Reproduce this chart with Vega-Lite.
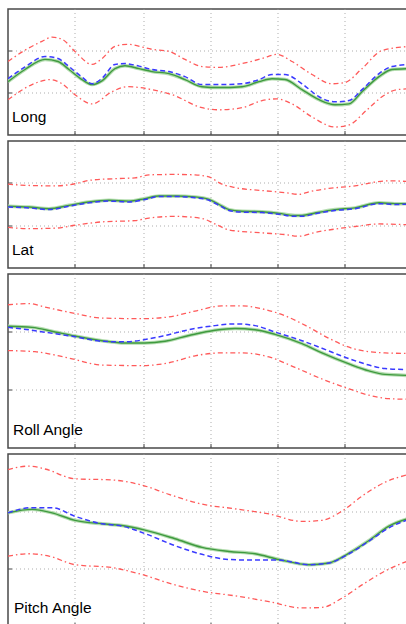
{
"$schema":"https://vega.github.io/schema/vega-lite/v6.json",
"padding":{"left":6,"top":8,"right":0,"bottom":0},
"autosize":{"type":"pad"},
"bounds":"flush",
"spacing":6,
"background":"white",
"config":{"view":{"stroke":"#4a4a4a","strokeWidth":1.5},
"axis":{"labels":false,"title":null,"domain":false,"grid":true,"gridDash":[1,3],"gridColor":"#999","gridOpacity":0.8,"ticks":true,"tickSize":-4,"tickColor":"#444","labelPadding":0,"minExtent":0,"maxExtent":0,"offset":0,"translate":0}},
"datasets":{
"lines":[
{"p":"Long","s":"est","t":0,"v":1.27},{"p":"Long","s":"est","t":17,"v":1.56},{"p":"Long","s":"est","t":37,"v":1.8},{"p":"Long","s":"est","t":50,"v":1.75},{"p":"Long","s":"est","t":61,"v":1.56},{"p":"Long","s":"est","t":74,"v":1.32},{"p":"Long","s":"est","t":84,"v":1.2},{"p":"Long","s":"est","t":94,"v":1.29},{"p":"Long","s":"est","t":107,"v":1.58},{"p":"Long","s":"est","t":117,"v":1.65},{"p":"Long","s":"est","t":131,"v":1.58},{"p":"Long","s":"est","t":144,"v":1.51},{"p":"Long","s":"est","t":161,"v":1.46},{"p":"Long","s":"est","t":177,"v":1.32},{"p":"Long","s":"est","t":194,"v":1.15},{"p":"Long","s":"est","t":211,"v":1.13},{"p":"Long","s":"est","t":234,"v":1.15},{"p":"Long","s":"est","t":251,"v":1.27},{"p":"Long","s":"est","t":264,"v":1.34},{"p":"Long","s":"est","t":277,"v":1.32},{"p":"Long","s":"est","t":294,"v":1.08},{"p":"Long","s":"est","t":311,"v":0.84},{"p":"Long","s":"est","t":327,"v":0.72},{"p":"Long","s":"est","t":341,"v":0.74},{"p":"Long","s":"est","t":354,"v":1.03},{"p":"Long","s":"est","t":371,"v":1.39},{"p":"Long","s":"est","t":384,"v":1.56},{"p":"Long","s":"est","t":402,"v":1.58},
{"p":"Long","s":"ref","t":0,"v":1.34},{"p":"Long","s":"ref","t":17,"v":1.62},{"p":"Long","s":"ref","t":37,"v":1.87},{"p":"Long","s":"ref","t":50,"v":1.82},{"p":"Long","s":"ref","t":61,"v":1.63},{"p":"Long","s":"ref","t":74,"v":1.38},{"p":"Long","s":"ref","t":84,"v":1.22},{"p":"Long","s":"ref","t":94,"v":1.35},{"p":"Long","s":"ref","t":107,"v":1.68},{"p":"Long","s":"ref","t":117,"v":1.7},{"p":"Long","s":"ref","t":131,"v":1.64},{"p":"Long","s":"ref","t":144,"v":1.56},{"p":"Long","s":"ref","t":161,"v":1.51},{"p":"Long","s":"ref","t":177,"v":1.39},{"p":"Long","s":"ref","t":194,"v":1.2},{"p":"Long","s":"ref","t":211,"v":1.2},{"p":"Long","s":"ref","t":234,"v":1.22},{"p":"Long","s":"ref","t":251,"v":1.32},{"p":"Long","s":"ref","t":264,"v":1.44},{"p":"Long","s":"ref","t":277,"v":1.44},{"p":"Long","s":"ref","t":294,"v":1.22},{"p":"Long","s":"ref","t":311,"v":0.91},{"p":"Long","s":"ref","t":327,"v":0.79},{"p":"Long","s":"ref","t":341,"v":0.82},{"p":"Long","s":"ref","t":354,"v":1.08},{"p":"Long","s":"ref","t":371,"v":1.46},{"p":"Long","s":"ref","t":384,"v":1.63},{"p":"Long","s":"ref","t":402,"v":1.68},
{"p":"Long","s":"upper","t":0,"v":1.75},{"p":"Long","s":"upper","t":17,"v":2.02},{"p":"Long","s":"upper","t":34,"v":2.23},{"p":"Long","s":"upper","t":44,"v":2.33},{"p":"Long","s":"upper","t":54,"v":2.28},{"p":"Long","s":"upper","t":67,"v":1.99},{"p":"Long","s":"upper","t":84,"v":1.68},{"p":"Long","s":"upper","t":94,"v":1.82},{"p":"Long","s":"upper","t":107,"v":2.11},{"p":"Long","s":"upper","t":119,"v":2.16},{"p":"Long","s":"upper","t":144,"v":2.04},{"p":"Long","s":"upper","t":161,"v":1.99},{"p":"Long","s":"upper","t":177,"v":1.8},{"p":"Long","s":"upper","t":194,"v":1.63},{"p":"Long","s":"upper","t":211,"v":1.61},{"p":"Long","s":"upper","t":234,"v":1.7},{"p":"Long","s":"upper","t":254,"v":1.82},{"p":"Long","s":"upper","t":269,"v":1.92},{"p":"Long","s":"upper","t":284,"v":1.75},{"p":"Long","s":"upper","t":304,"v":1.44},{"p":"Long","s":"upper","t":324,"v":1.22},{"p":"Long","s":"upper","t":337,"v":1.25},{"p":"Long","s":"upper","t":354,"v":1.58},{"p":"Long","s":"upper","t":374,"v":2.01},{"p":"Long","s":"upper","t":402,"v":2.11},
{"p":"Long","s":"lower","t":0,"v":0.84},{"p":"Long","s":"lower","t":24,"v":1.2},{"p":"Long","s":"lower","t":42,"v":1.32},{"p":"Long","s":"lower","t":54,"v":1.22},{"p":"Long","s":"lower","t":67,"v":0.96},{"p":"Long","s":"lower","t":84,"v":0.74},{"p":"Long","s":"lower","t":104,"v":1.03},{"p":"Long","s":"lower","t":119,"v":1.15},{"p":"Long","s":"lower","t":144,"v":1.08},{"p":"Long","s":"lower","t":164,"v":0.96},{"p":"Long","s":"lower","t":194,"v":0.65},{"p":"Long","s":"lower","t":211,"v":0.6},{"p":"Long","s":"lower","t":234,"v":0.65},{"p":"Long","s":"lower","t":254,"v":0.82},{"p":"Long","s":"lower","t":269,"v":0.86},{"p":"Long","s":"lower","t":284,"v":0.74},{"p":"Long","s":"lower","t":304,"v":0.43},{"p":"Long","s":"lower","t":327,"v":0.19},{"p":"Long","s":"lower","t":341,"v":0.24},{"p":"Long","s":"lower","t":359,"v":0.6},{"p":"Long","s":"lower","t":374,"v":0.91},{"p":"Long","s":"lower","t":389,"v":1.08},{"p":"Long","s":"lower","t":402,"v":1.1},
{"p":"Lat","s":"est","t":0,"v":1.46},{"p":"Lat","s":"est","t":21,"v":1.44},{"p":"Lat","s":"est","t":41,"v":1.4},{"p":"Lat","s":"est","t":61,"v":1.48},{"p":"Lat","s":"est","t":81,"v":1.56},{"p":"Lat","s":"est","t":101,"v":1.6},{"p":"Lat","s":"est","t":121,"v":1.58},{"p":"Lat","s":"est","t":137,"v":1.64},{"p":"Lat","s":"est","t":151,"v":1.7},{"p":"Lat","s":"est","t":167,"v":1.7},{"p":"Lat","s":"est","t":187,"v":1.68},{"p":"Lat","s":"est","t":201,"v":1.62},{"p":"Lat","s":"est","t":211,"v":1.5},{"p":"Lat","s":"est","t":221,"v":1.38},{"p":"Lat","s":"est","t":234,"v":1.34},{"p":"Lat","s":"est","t":254,"v":1.33},{"p":"Lat","s":"est","t":271,"v":1.29},{"p":"Lat","s":"est","t":287,"v":1.24},{"p":"Lat","s":"est","t":294,"v":1.24},{"p":"Lat","s":"est","t":307,"v":1.3},{"p":"Lat","s":"est","t":327,"v":1.38},{"p":"Lat","s":"est","t":347,"v":1.42},{"p":"Lat","s":"est","t":371,"v":1.54},{"p":"Lat","s":"est","t":387,"v":1.52},{"p":"Lat","s":"est","t":402,"v":1.52},
{"p":"Lat","s":"ref","t":0,"v":1.44},{"p":"Lat","s":"ref","t":21,"v":1.42},{"p":"Lat","s":"ref","t":41,"v":1.38},{"p":"Lat","s":"ref","t":61,"v":1.46},{"p":"Lat","s":"ref","t":81,"v":1.54},{"p":"Lat","s":"ref","t":101,"v":1.58},{"p":"Lat","s":"ref","t":121,"v":1.56},{"p":"Lat","s":"ref","t":137,"v":1.62},{"p":"Lat","s":"ref","t":151,"v":1.69},{"p":"Lat","s":"ref","t":167,"v":1.69},{"p":"Lat","s":"ref","t":187,"v":1.66},{"p":"Lat","s":"ref","t":201,"v":1.6},{"p":"Lat","s":"ref","t":211,"v":1.48},{"p":"Lat","s":"ref","t":221,"v":1.36},{"p":"Lat","s":"ref","t":234,"v":1.32},{"p":"Lat","s":"ref","t":254,"v":1.31},{"p":"Lat","s":"ref","t":271,"v":1.27},{"p":"Lat","s":"ref","t":287,"v":1.22},{"p":"Lat","s":"ref","t":294,"v":1.22},{"p":"Lat","s":"ref","t":307,"v":1.28},{"p":"Lat","s":"ref","t":327,"v":1.36},{"p":"Lat","s":"ref","t":347,"v":1.4},{"p":"Lat","s":"ref","t":371,"v":1.52},{"p":"Lat","s":"ref","t":387,"v":1.5},{"p":"Lat","s":"ref","t":402,"v":1.51},
{"p":"Lat","s":"upper","t":0,"v":1.98},{"p":"Lat","s":"upper","t":21,"v":1.95},{"p":"Lat","s":"upper","t":47,"v":1.94},{"p":"Lat","s":"upper","t":67,"v":1.99},{"p":"Lat","s":"upper","t":81,"v":2.07},{"p":"Lat","s":"upper","t":107,"v":2.11},{"p":"Lat","s":"upper","t":127,"v":2.13},{"p":"Lat","s":"upper","t":141,"v":2.2},{"p":"Lat","s":"upper","t":167,"v":2.21},{"p":"Lat","s":"upper","t":187,"v":2.2},{"p":"Lat","s":"upper","t":201,"v":2.15},{"p":"Lat","s":"upper","t":214,"v":1.98},{"p":"Lat","s":"upper","t":227,"v":1.9},{"p":"Lat","s":"upper","t":254,"v":1.83},{"p":"Lat","s":"upper","t":277,"v":1.78},{"p":"Lat","s":"upper","t":291,"v":1.74},{"p":"Lat","s":"upper","t":301,"v":1.8},{"p":"Lat","s":"upper","t":321,"v":1.88},{"p":"Lat","s":"upper","t":347,"v":1.94},{"p":"Lat","s":"upper","t":367,"v":2.03},{"p":"Lat","s":"upper","t":381,"v":2.06},{"p":"Lat","s":"upper","t":402,"v":2.04},
{"p":"Lat","s":"lower","t":0,"v":0.96},{"p":"Lat","s":"lower","t":21,"v":0.93},{"p":"Lat","s":"lower","t":47,"v":0.94},{"p":"Lat","s":"lower","t":67,"v":1.01},{"p":"Lat","s":"lower","t":94,"v":1.09},{"p":"Lat","s":"lower","t":127,"v":1.12},{"p":"Lat","s":"lower","t":141,"v":1.18},{"p":"Lat","s":"lower","t":167,"v":1.22},{"p":"Lat","s":"lower","t":194,"v":1.17},{"p":"Lat","s":"lower","t":207,"v":1.04},{"p":"Lat","s":"lower","t":221,"v":0.9},{"p":"Lat","s":"lower","t":254,"v":0.83},{"p":"Lat","s":"lower","t":277,"v":0.79},{"p":"Lat","s":"lower","t":291,"v":0.75},{"p":"Lat","s":"lower","t":307,"v":0.84},{"p":"Lat","s":"lower","t":327,"v":0.92},{"p":"Lat","s":"lower","t":347,"v":0.98},{"p":"Lat","s":"lower","t":371,"v":1.04},{"p":"Lat","s":"lower","t":402,"v":1.02},
{"p":"Roll","s":"est","t":0,"v":2.1},{"p":"Roll","s":"est","t":24,"v":2.08},{"p":"Roll","s":"est","t":47,"v":2.0},{"p":"Roll","s":"est","t":67,"v":1.93},{"p":"Roll","s":"est","t":94,"v":1.85},{"p":"Roll","s":"est","t":117,"v":1.81},{"p":"Roll","s":"est","t":137,"v":1.81},{"p":"Roll","s":"est","t":157,"v":1.84},{"p":"Roll","s":"est","t":181,"v":1.94},{"p":"Roll","s":"est","t":207,"v":2.03},{"p":"Roll","s":"est","t":227,"v":2.06},{"p":"Roll","s":"est","t":247,"v":2.04},{"p":"Roll","s":"est","t":267,"v":1.96},{"p":"Roll","s":"est","t":294,"v":1.8},{"p":"Roll","s":"est","t":314,"v":1.64},{"p":"Roll","s":"est","t":341,"v":1.45},{"p":"Roll","s":"est","t":361,"v":1.33},{"p":"Roll","s":"est","t":377,"v":1.27},{"p":"Roll","s":"est","t":402,"v":1.25},
{"p":"Roll","s":"ref","t":0,"v":2.08},{"p":"Roll","s":"ref","t":24,"v":2.03},{"p":"Roll","s":"ref","t":47,"v":1.97},{"p":"Roll","s":"ref","t":67,"v":1.92},{"p":"Roll","s":"ref","t":94,"v":1.84},{"p":"Roll","s":"ref","t":117,"v":1.83},{"p":"Roll","s":"ref","t":137,"v":1.87},{"p":"Roll","s":"ref","t":157,"v":1.94},{"p":"Roll","s":"ref","t":181,"v":2.04},{"p":"Roll","s":"ref","t":207,"v":2.11},{"p":"Roll","s":"ref","t":227,"v":2.14},{"p":"Roll","s":"ref","t":247,"v":2.11},{"p":"Roll","s":"ref","t":267,"v":2.0},{"p":"Roll","s":"ref","t":294,"v":1.85},{"p":"Roll","s":"ref","t":314,"v":1.72},{"p":"Roll","s":"ref","t":341,"v":1.54},{"p":"Roll","s":"ref","t":361,"v":1.43},{"p":"Roll","s":"ref","t":377,"v":1.37},{"p":"Roll","s":"ref","t":402,"v":1.35},
{"p":"Roll","s":"upper","t":0,"v":2.47},{"p":"Roll","s":"upper","t":21,"v":2.49},{"p":"Roll","s":"upper","t":37,"v":2.43},{"p":"Roll","s":"upper","t":67,"v":2.32},{"p":"Roll","s":"upper","t":94,"v":2.24},{"p":"Roll","s":"upper","t":134,"v":2.23},{"p":"Roll","s":"upper","t":161,"v":2.26},{"p":"Roll","s":"upper","t":187,"v":2.36},{"p":"Roll","s":"upper","t":214,"v":2.45},{"p":"Roll","s":"upper","t":234,"v":2.45},{"p":"Roll","s":"upper","t":254,"v":2.4},{"p":"Roll","s":"upper","t":277,"v":2.28},{"p":"Roll","s":"upper","t":301,"v":2.08},{"p":"Roll","s":"upper","t":321,"v":1.89},{"p":"Roll","s":"upper","t":344,"v":1.72},{"p":"Roll","s":"upper","t":361,"v":1.66},{"p":"Roll","s":"upper","t":377,"v":1.64},{"p":"Roll","s":"upper","t":402,"v":1.63},
{"p":"Roll","s":"lower","t":0,"v":1.68},{"p":"Roll","s":"lower","t":27,"v":1.66},{"p":"Roll","s":"lower","t":61,"v":1.55},{"p":"Roll","s":"lower","t":94,"v":1.43},{"p":"Roll","s":"lower","t":134,"v":1.42},{"p":"Roll","s":"lower","t":161,"v":1.47},{"p":"Roll","s":"lower","t":187,"v":1.59},{"p":"Roll","s":"lower","t":214,"v":1.64},{"p":"Roll","s":"lower","t":234,"v":1.64},{"p":"Roll","s":"lower","t":261,"v":1.57},{"p":"Roll","s":"lower","t":287,"v":1.39},{"p":"Roll","s":"lower","t":314,"v":1.19},{"p":"Roll","s":"lower","t":341,"v":1.02},{"p":"Roll","s":"lower","t":361,"v":0.91},{"p":"Roll","s":"lower","t":381,"v":0.85},{"p":"Roll","s":"lower","t":402,"v":0.84},
{"p":"Pitch","s":"est","t":0,"v":1.98},{"p":"Pitch","s":"est","t":24,"v":2.04},{"p":"Pitch","s":"est","t":44,"v":1.98},{"p":"Pitch","s":"est","t":67,"v":1.85},{"p":"Pitch","s":"est","t":94,"v":1.79},{"p":"Pitch","s":"est","t":114,"v":1.76},{"p":"Pitch","s":"est","t":137,"v":1.68},{"p":"Pitch","s":"est","t":167,"v":1.53},{"p":"Pitch","s":"est","t":194,"v":1.38},{"p":"Pitch","s":"est","t":221,"v":1.31},{"p":"Pitch","s":"est","t":247,"v":1.27},{"p":"Pitch","s":"est","t":271,"v":1.17},{"p":"Pitch","s":"est","t":301,"v":1.08},{"p":"Pitch","s":"est","t":321,"v":1.11},{"p":"Pitch","s":"est","t":341,"v":1.28},{"p":"Pitch","s":"est","t":361,"v":1.5},{"p":"Pitch","s":"est","t":381,"v":1.75},{"p":"Pitch","s":"est","t":402,"v":1.89},
{"p":"Pitch","s":"ref","t":0,"v":1.98},{"p":"Pitch","s":"ref","t":24,"v":2.07},{"p":"Pitch","s":"ref","t":44,"v":2.07},{"p":"Pitch","s":"ref","t":67,"v":1.92},{"p":"Pitch","s":"ref","t":94,"v":1.79},{"p":"Pitch","s":"ref","t":114,"v":1.75},{"p":"Pitch","s":"ref","t":137,"v":1.62},{"p":"Pitch","s":"ref","t":167,"v":1.41},{"p":"Pitch","s":"ref","t":194,"v":1.26},{"p":"Pitch","s":"ref","t":221,"v":1.17},{"p":"Pitch","s":"ref","t":247,"v":1.16},{"p":"Pitch","s":"ref","t":271,"v":1.16},{"p":"Pitch","s":"ref","t":301,"v":1.08},{"p":"Pitch","s":"ref","t":321,"v":1.11},{"p":"Pitch","s":"ref","t":341,"v":1.27},{"p":"Pitch","s":"ref","t":361,"v":1.49},{"p":"Pitch","s":"ref","t":381,"v":1.72},{"p":"Pitch","s":"ref","t":402,"v":1.87},
{"p":"Pitch","s":"upper","t":0,"v":2.73},{"p":"Pitch","s":"upper","t":21,"v":2.79},{"p":"Pitch","s":"upper","t":37,"v":2.74},{"p":"Pitch","s":"upper","t":67,"v":2.57},{"p":"Pitch","s":"upper","t":104,"v":2.55},{"p":"Pitch","s":"upper","t":134,"v":2.46},{"p":"Pitch","s":"upper","t":161,"v":2.3},{"p":"Pitch","s":"upper","t":194,"v":2.13},{"p":"Pitch","s":"upper","t":227,"v":2.05},{"p":"Pitch","s":"upper","t":261,"v":1.96},{"p":"Pitch","s":"upper","t":294,"v":1.83},{"p":"Pitch","s":"upper","t":314,"v":1.85},{"p":"Pitch","s":"upper","t":334,"v":2.01},{"p":"Pitch","s":"upper","t":354,"v":2.27},{"p":"Pitch","s":"upper","t":377,"v":2.51},{"p":"Pitch","s":"upper","t":402,"v":2.65},
{"p":"Pitch","s":"lower","t":0,"v":1.23},{"p":"Pitch","s":"lower","t":21,"v":1.27},{"p":"Pitch","s":"lower","t":41,"v":1.23},{"p":"Pitch","s":"lower","t":67,"v":1.08},{"p":"Pitch","s":"lower","t":104,"v":1.03},{"p":"Pitch","s":"lower","t":134,"v":0.91},{"p":"Pitch","s":"lower","t":161,"v":0.76},{"p":"Pitch","s":"lower","t":194,"v":0.62},{"p":"Pitch","s":"lower","t":227,"v":0.54},{"p":"Pitch","s":"lower","t":261,"v":0.44},{"p":"Pitch","s":"lower","t":294,"v":0.33},{"p":"Pitch","s":"lower","t":314,"v":0.34},{"p":"Pitch","s":"lower","t":334,"v":0.5},{"p":"Pitch","s":"lower","t":354,"v":0.73},{"p":"Pitch","s":"lower","t":377,"v":0.97},{"p":"Pitch","s":"lower","t":402,"v":1.16}
],
"labels":[
{"p":"Long","label":"Long","t":4,"v":0.3},
{"p":"Lat","label":"Lat","t":4,"v":0.3},
{"p":"Roll","label":"Roll Angle","t":5,"v":0.22},
{"p":"Pitch","label":"Pitch Angle","t":6,"v":0.25}
]
},
"vconcat":[
{"width":402,"height":126,
"encoding":{"x":{"field":"t","type":"quantitative","scale":{"domain":[0,402],"nice":false,"zero":false},"axis":{"values":[67,136,203,270,337]}},"y":{"field":"v","type":"quantitative","scale":{"domain":[0,3],"nice":false,"zero":false},"axis":{"values":[1,2]}}},
"layer":[
{"data":{"name":"lines"},"transform":[{"filter":"datum.p==='Long' && datum.s==='est'"}],"mark":{"type":"line","color":"#b5ddb0","strokeWidth":3.5,"interpolate":"monotone","clip":true}},
{"data":{"name":"lines"},"transform":[{"filter":"datum.p==='Long' && datum.s==='est'"}],"mark":{"type":"line","color":"#3f9a3f","strokeWidth":1.4,"interpolate":"monotone","clip":true}},
{"data":{"name":"lines"},"transform":[{"filter":"datum.p==='Long' && datum.s==='ref'"}],"mark":{"type":"line","color":"#3a3aff","strokeWidth":1.5,"strokeDash":[5,3],"interpolate":"monotone","clip":true}},
{"data":{"name":"lines"},"transform":[{"filter":"datum.p==='Long' && (datum.s==='upper' || datum.s==='lower')"}],"mark":{"type":"line","color":"#ff5a5a","strokeWidth":1.3,"strokeDash":[5,3,1.5,3],"interpolate":"monotone","clip":true},"encoding":{"detail":{"field":"s"}}},
{"data":{"name":"labels"},"transform":[{"filter":"datum.p==='Long'"}],"mark":{"type":"text","align":"left","baseline":"alphabetic","font":"Liberation Sans, Arial, sans-serif","fontSize":15.5,"color":"#000"},"encoding":{"text":{"field":"label"}}}
]},
{"width":402,"height":127,
"encoding":{"x":{"field":"t","type":"quantitative","scale":{"domain":[0,402],"nice":false,"zero":false},"axis":{"values":[67,136,203,270,337]}},"y":{"field":"v","type":"quantitative","scale":{"domain":[0,3],"nice":false,"zero":false},"axis":{"values":[1,2]}}},
"layer":[
{"data":{"name":"lines"},"transform":[{"filter":"datum.p==='Lat' && datum.s==='est'"}],"mark":{"type":"line","color":"#b5ddb0","strokeWidth":3.5,"interpolate":"monotone","clip":true}},
{"data":{"name":"lines"},"transform":[{"filter":"datum.p==='Lat' && datum.s==='est'"}],"mark":{"type":"line","color":"#3f9a3f","strokeWidth":1.4,"interpolate":"monotone","clip":true}},
{"data":{"name":"lines"},"transform":[{"filter":"datum.p==='Lat' && datum.s==='ref'"}],"mark":{"type":"line","color":"#3a3aff","strokeWidth":1.5,"strokeDash":[5,3],"interpolate":"monotone","clip":true}},
{"data":{"name":"lines"},"transform":[{"filter":"datum.p==='Lat' && (datum.s==='upper' || datum.s==='lower')"}],"mark":{"type":"line","color":"#ff5a5a","strokeWidth":1.3,"strokeDash":[5,3,1.5,3],"interpolate":"monotone","clip":true},"encoding":{"detail":{"field":"s"}}},
{"data":{"name":"labels"},"transform":[{"filter":"datum.p==='Lat'"}],"mark":{"type":"text","align":"left","baseline":"alphabetic","font":"Liberation Sans, Arial, sans-serif","fontSize":15.5,"color":"#000"},"encoding":{"text":{"field":"label"}}}
]},
{"width":402,"height":174,
"encoding":{"x":{"field":"t","type":"quantitative","scale":{"domain":[0,402],"nice":false,"zero":false},"axis":{"values":[67,136,203,270,337]}},"y":{"field":"v","type":"quantitative","scale":{"domain":[0,3],"nice":false,"zero":false},"axis":{"values":[1,2]}}},
"layer":[
{"data":{"name":"lines"},"transform":[{"filter":"datum.p==='Roll' && datum.s==='est'"}],"mark":{"type":"line","color":"#b5ddb0","strokeWidth":3.5,"interpolate":"monotone","clip":true}},
{"data":{"name":"lines"},"transform":[{"filter":"datum.p==='Roll' && datum.s==='est'"}],"mark":{"type":"line","color":"#3f9a3f","strokeWidth":1.4,"interpolate":"monotone","clip":true}},
{"data":{"name":"lines"},"transform":[{"filter":"datum.p==='Roll' && datum.s==='ref'"}],"mark":{"type":"line","color":"#3a3aff","strokeWidth":1.5,"strokeDash":[5,3],"interpolate":"monotone","clip":true}},
{"data":{"name":"lines"},"transform":[{"filter":"datum.p==='Roll' && (datum.s==='upper' || datum.s==='lower')"}],"mark":{"type":"line","color":"#ff5a5a","strokeWidth":1.3,"strokeDash":[5,3,1.5,3],"interpolate":"monotone","clip":true},"encoding":{"detail":{"field":"s"}}},
{"data":{"name":"labels"},"transform":[{"filter":"datum.p==='Roll'"}],"mark":{"type":"text","align":"left","baseline":"alphabetic","font":"Liberation Sans, Arial, sans-serif","fontSize":15.5,"color":"#000"},"encoding":{"text":{"field":"label"}}}
]},
{"width":402,"height":173,
"encoding":{"x":{"field":"t","type":"quantitative","scale":{"domain":[0,402],"nice":false,"zero":false},"axis":{"values":[67,136,203,270,337]}},"y":{"field":"v","type":"quantitative","scale":{"domain":[0,3],"nice":false,"zero":false},"axis":{"values":[1,2]}}},
"layer":[
{"data":{"name":"lines"},"transform":[{"filter":"datum.p==='Pitch' && datum.s==='est'"}],"mark":{"type":"line","color":"#b5ddb0","strokeWidth":3.5,"interpolate":"monotone","clip":true}},
{"data":{"name":"lines"},"transform":[{"filter":"datum.p==='Pitch' && datum.s==='est'"}],"mark":{"type":"line","color":"#3f9a3f","strokeWidth":1.4,"interpolate":"monotone","clip":true}},
{"data":{"name":"lines"},"transform":[{"filter":"datum.p==='Pitch' && datum.s==='ref'"}],"mark":{"type":"line","color":"#3a3aff","strokeWidth":1.5,"strokeDash":[5,3],"interpolate":"monotone","clip":true}},
{"data":{"name":"lines"},"transform":[{"filter":"datum.p==='Pitch' && (datum.s==='upper' || datum.s==='lower')"}],"mark":{"type":"line","color":"#ff5a5a","strokeWidth":1.3,"strokeDash":[5,3,1.5,3],"interpolate":"monotone","clip":true},"encoding":{"detail":{"field":"s"}}},
{"data":{"name":"labels"},"transform":[{"filter":"datum.p==='Pitch'"}],"mark":{"type":"text","align":"left","baseline":"alphabetic","font":"Liberation Sans, Arial, sans-serif","fontSize":15.5,"color":"#000"},"encoding":{"text":{"field":"label"}}}
]}
]
}
